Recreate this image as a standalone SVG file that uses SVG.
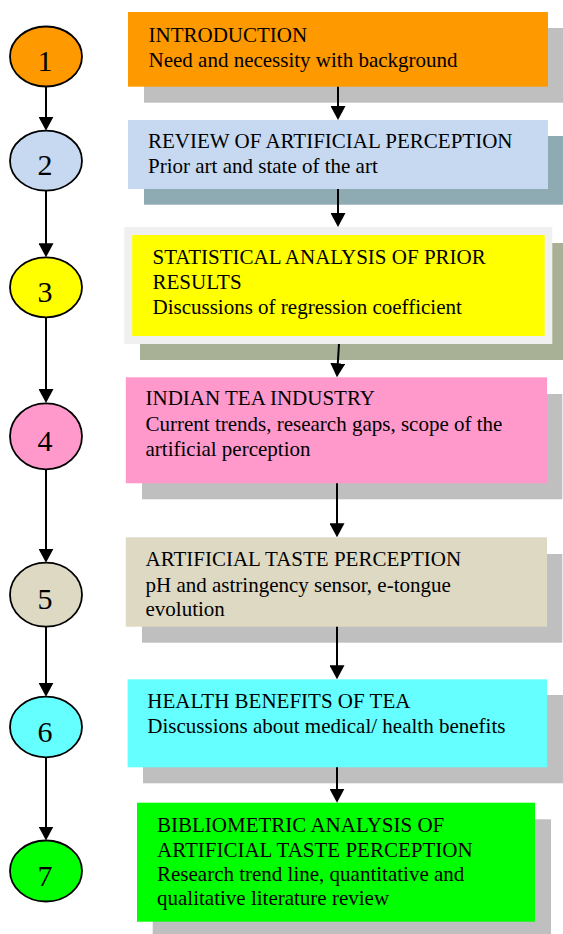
<svg xmlns="http://www.w3.org/2000/svg" width="563" height="934" viewBox="0 0 563 934">
  <defs>
    <!-- arrowhead: tip sits 4px past the line end so the stroke never pokes through -->
    <marker id="arrow" markerWidth="14" markerHeight="15" refX="10" refY="7.5" orient="auto" markerUnits="userSpaceOnUse" viewBox="0 0 14 15">
      <path d="M0,0 L14,7.5 L0,15 Z" fill="#000"/>
    </marker>
  </defs>
  <style>
    text { font-family: "Liberation Serif", "Times New Roman", serif; fill: #000; }
    .t { font-size: 21px; }
    .num { font-size: 30px; text-anchor: middle; }
    .step { stroke: #000; stroke-width: 1.8; }
    .shadow { fill: #BFBFBF; }
    .link { stroke: #000; stroke-width: 2; fill: none; }
  </style>
  <rect width="563" height="934" fill="#fff"/>

  <!-- numbered step markers -->
  <g id="step1"><ellipse class="step" cx="46" cy="56.5" rx="36" ry="30" fill="#FF9900"/><text class="num" x="45" y="71">1</text></g>
  <g id="step2"><ellipse class="step" cx="46" cy="160.7" rx="36" ry="30" fill="#C6D9F0"/><text class="num" x="45" y="175">2</text></g>
  <g id="step3"><ellipse class="step" cx="46" cy="287.3" rx="36" ry="30" fill="#FFFF00"/><text class="num" x="45" y="302">3</text></g>
  <g id="step4"><ellipse class="step" cx="46" cy="436.3" rx="36" ry="33" fill="#FF99CC"/><text class="num" x="45" y="451">4</text></g>
  <g id="step5"><ellipse class="step" cx="46" cy="594.7" rx="36" ry="32" fill="#DDD9C3"/><text class="num" x="45" y="609">5</text></g>
  <g id="step6"><ellipse class="step" cx="46" cy="727" rx="36" ry="30.3" fill="#66FFFF"/><text class="num" x="45" y="741.5">6</text></g>
  <g id="step7"><ellipse class="step" cx="46" cy="871" rx="36" ry="30.5" fill="#00FF00"/><text class="num" x="45" y="885.5">7</text></g>

  <!-- section boxes with offset shadows -->
  <g id="box1">
    <rect class="shadow" x="144" y="28" width="419" height="74.7"/>
    <rect x="128" y="12" width="420" height="74.7" fill="#FF9900"/>
    <text class="t" x="148.5" y="41.7">INTRODUCTION</text>
    <text class="t" x="148.5" y="66.7">Need and necessity with background</text>
  </g>
  <g id="box2">
    <rect x="144" y="136" width="419" height="68.7" fill="#8EAAB3"/>
    <rect x="128" y="120" width="420" height="69" fill="#C6D9F0"/>
    <text class="t" x="148" y="147.7">REVIEW OF ARTIFICIAL PERCEPTION</text>
    <text class="t" x="148" y="173">Prior art and state of the art</text>
  </g>
  <g id="box3">
    <rect x="140" y="243" width="423" height="117" fill="#A8B096"/>
    <rect x="124.3" y="227" width="428" height="117" fill="#F0F0F0"/>
    <rect x="132.2" y="235" width="412.5" height="101" fill="#FFFF00"/>
    <text class="t" x="152.5" y="263.5">STATISTICAL ANALYSIS OF PRIOR</text>
    <text class="t" x="152.5" y="288.5">RESULTS</text>
    <text class="t" x="152.5" y="313.5">Discussions of regression coefficient</text>
  </g>
  <g id="box4">
    <rect class="shadow" x="142" y="394" width="420.3" height="105.3"/>
    <rect x="125.8" y="377.3" width="421.2" height="106" fill="#FF99CC"/>
    <text class="t" x="145.5" y="405">INDIAN TEA INDUSTRY</text>
    <text class="t" x="145.5" y="431">Current trends, research gaps, scope of the</text>
    <text class="t" x="145.5" y="456">artificial perception</text>
  </g>
  <g id="box5">
    <rect class="shadow" x="142" y="554" width="420.3" height="88.7"/>
    <rect x="125.8" y="537.3" width="421.2" height="89.4" fill="#DDD9C3"/>
    <text class="t" x="145.5" y="566">ARTIFICIAL TASTE PERCEPTION</text>
    <text class="t" x="145.5" y="591.5">pH and astringency sensor, e-tongue</text>
    <text class="t" x="145.5" y="616">evolution</text>
  </g>
  <g id="box6">
    <rect class="shadow" x="143" y="695" width="420" height="88.3"/>
    <rect x="127.6" y="679.3" width="419.4" height="88" fill="#66FFFF"/>
    <text class="t" x="147.3" y="708.3">HEALTH BENEFITS OF TEA</text>
    <text class="t" x="147.3" y="733.3">Discussions about medical/ health benefits</text>
  </g>
  <g id="box7">
    <rect class="shadow" x="152.7" y="819.3" width="398.3" height="114.7"/>
    <rect x="137" y="802.7" width="398" height="119" fill="#00FF00"/>
    <text class="t" x="157" y="832.3">BIBLIOMETRIC ANALYSIS OF</text>
    <text class="t" x="157" y="856.7">ARTIFICIAL TASTE PERCEPTION</text>
    <text class="t" x="157" y="880.7">Research trend line, quantitative and</text>
    <text class="t" x="157" y="905">qualitative literature review</text>
  </g>

  <!-- connectors (each ends 4px short of the arrow tip) -->
  <g id="connectors">
    <line class="link" x1="46" y1="86.5" x2="46" y2="126.7" marker-end="url(#arrow)"/>
    <line class="link" x1="46" y1="190.7" x2="46" y2="253.3" marker-end="url(#arrow)"/>
    <line class="link" x1="46" y1="317.3" x2="46" y2="399" marker-end="url(#arrow)"/>
    <line class="link" x1="46" y1="469.3" x2="46" y2="558.7" marker-end="url(#arrow)"/>
    <line class="link" x1="46" y1="626.7" x2="46" y2="692.7" marker-end="url(#arrow)"/>
    <line class="link" x1="46" y1="757.3" x2="46" y2="836.5" marker-end="url(#arrow)"/>

    <line class="link" x1="338" y1="86.7" x2="338" y2="116" marker-end="url(#arrow)"/>
    <line class="link" x1="338" y1="189" x2="338" y2="223" marker-end="url(#arrow)"/>
    <line class="link" x1="339" y1="344" x2="337.2" y2="373.3" marker-end="url(#arrow)"/>
    <line class="link" x1="337" y1="483.3" x2="337" y2="533.3" marker-end="url(#arrow)"/>
    <line class="link" x1="337" y1="626.7" x2="337" y2="675.3" marker-end="url(#arrow)"/>
    <line class="link" x1="337" y1="767.3" x2="337" y2="798.7" marker-end="url(#arrow)"/>
  </g>
</svg>
